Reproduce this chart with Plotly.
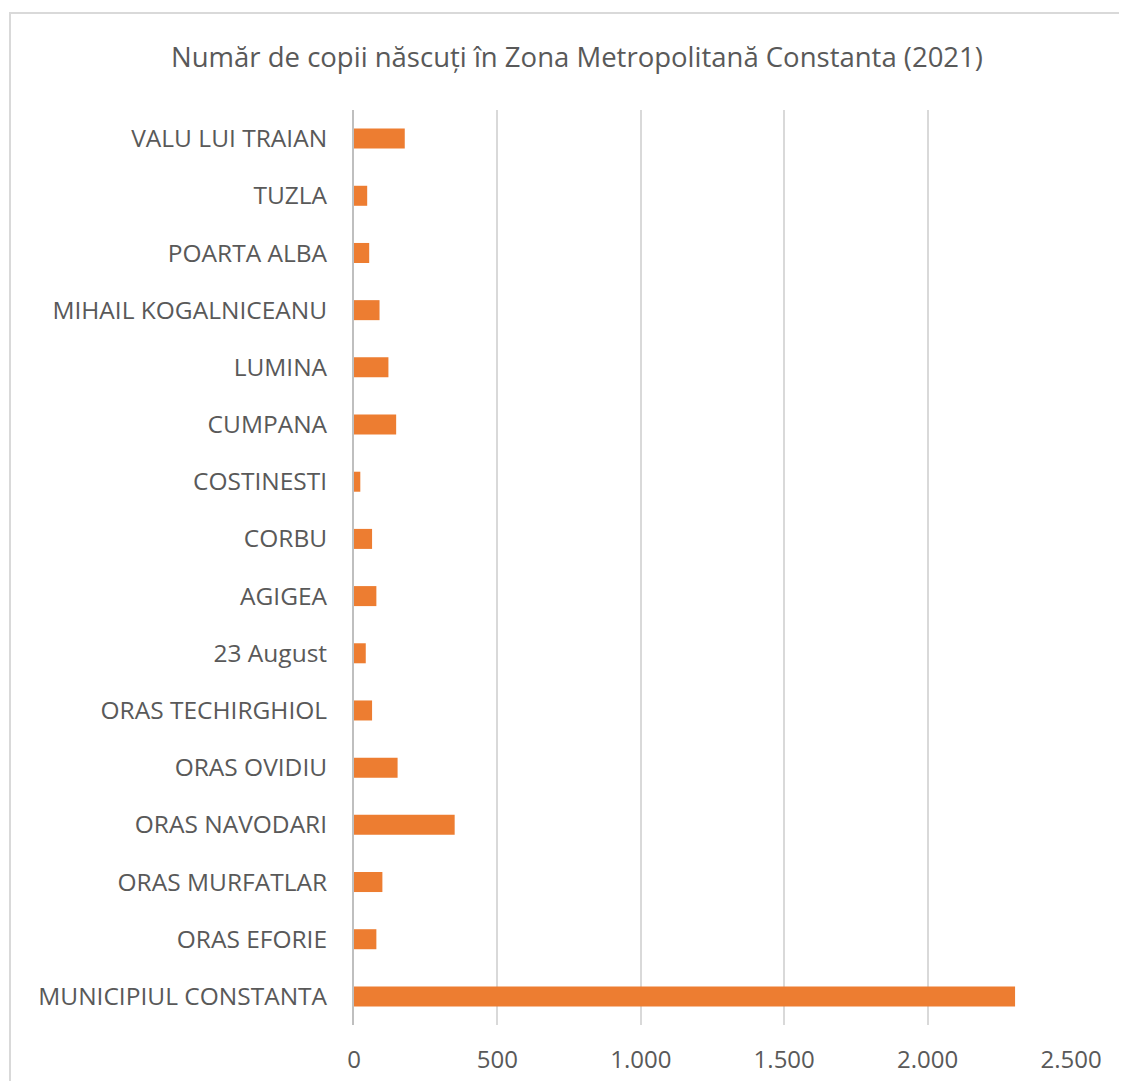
import plotly.graph_objects as go

categories = [
    "MUNICIPIUL CONSTANTA", "ORAS EFORIE", "ORAS MURFATLAR", "ORAS NAVODARI",
    "ORAS OVIDIU", "ORAS TECHIRGHIOL", "23 August", "AGIGEA", "CORBU",
    "COSTINESTI", "CUMPANA", "LUMINA", "MIHAIL KOGALNICEANU", "POARTA ALBA",
    "TUZLA", "VALU LUI TRAIAN",
]
births = [2305, 78, 99, 351, 152, 63, 41, 78, 63, 22, 147, 120, 89, 53, 46, 177]
x_ticks = [0, 500, 1000, 1500, 2000, 2500]

title_text = "Număr de copii născuți în Zona Metropolitană Constanta (2021)"

# page body has an 8px margin; the figure is sized to fit inside it
OFF = 8
W, H = 1127 - 2 * OFF, 1089 - 2 * OFF
L, T = 354 - OFF, 110 - OFF
R = W - (1071 - OFF)
B = H - (1025 - OFF)
pw, ph = W - L - R, H - T - B

def px_x(px):
    return (px - OFF - L) / pw

def px_y(py):
    return (H - B - (py - OFF)) / ph

font_family = "Open Sans, Liberation Sans, sans-serif"
text_color = "#595959"

fig = go.Figure(go.Bar(
    x=births, y=categories, orientation="h",
    marker=dict(color="#ED7D31", line=dict(width=0)),
))

fig.update_layout(
    width=W, height=H,
    margin=dict(l=L, r=R, t=T, b=B, autoexpand=False),
    paper_bgcolor="white", plot_bgcolor="white",
    separators=",.",
    bargap=0.65,
    showlegend=False,
    font=dict(family=font_family, color=text_color, size=24),
    title=dict(text=title_text, x=(577 - OFF) / W, xref="container", xanchor="center",
               y=1 - (57 - OFF) / H, yref="container", yanchor="middle",
               font=dict(size=27.5, color=text_color, family=font_family)),
    xaxis=dict(range=[0, 2500], tickvals=x_ticks, tickformat=",d",
               showgrid=True, gridcolor="#D9D9D9", gridwidth=1.5,
               zeroline=False, showline=False, ticks="", automargin=False,
               ticklabelstandoff=18,
               tickfont=dict(size=24, color=text_color)),
    yaxis=dict(type="category", categoryorder="array", categoryarray=categories,
               showgrid=False, showline=True, linecolor="#BFBFBF", linewidth=2,
               ticks="", ticklabelstandoff=20, automargin=False,
               tickfont=dict(size=24.5, color=text_color)),
    shapes=[dict(type="rect", xref="paper", yref="paper",
                 x0=px_x(10), x1=px_x(1160), y0=px_y(1120), y1=px_y(13),
                 line=dict(color="#D9D9D9", width=2), fillcolor="rgba(0,0,0,0)",
                 layer="below")],
)

fig.write_html("out.html")
